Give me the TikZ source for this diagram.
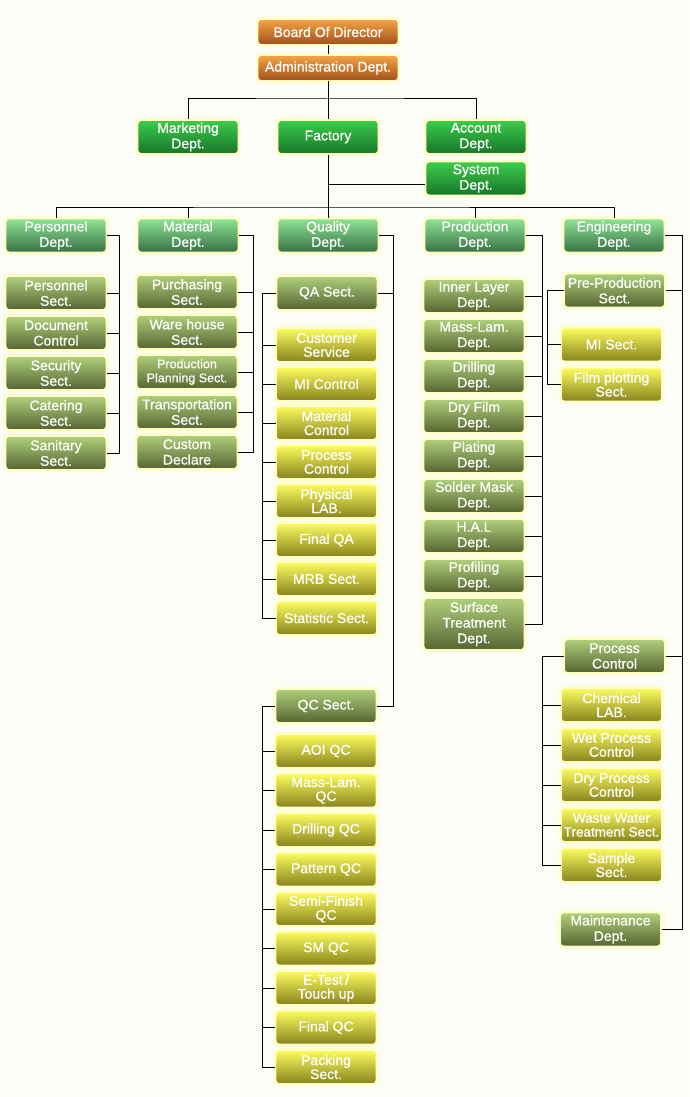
\documentclass[tikz,border=0pt]{standalone}
\usepackage{fontspec}
\setmainfont{Liberation Sans}
\newfontfamily\chartfont{Liberation Sans}[FakeBold=0.6]
\usetikzlibrary{positioning,calc}
\definecolor{glow}{RGB}{255,255,200}
\definecolor{paper}{RGB}{253,253,247}
\definecolor{orgtop}{RGB}{246,166,72}
\definecolor{orgbot}{RGB}{160,78,24}
\definecolor{grntop}{RGB}{60,206,76}
\definecolor{grnbot}{RGB}{24,116,40}
\definecolor{mnttop}{RGB}{144,230,150}
\definecolor{mntbot}{RGB}{54,110,68}
\definecolor{olvtop}{RGB}{176,210,124}
\definecolor{olvbot}{RGB}{84,98,48}
\definecolor{yeltop}{RGB}{255,255,96}
\definecolor{yelbot}{RGB}{132,128,26}
\tikzstyle{box}  =[rounded corners=4pt, draw=glow, line width=2.8pt,
                   outer sep=0pt, inner sep=1pt, minimum width=102pt,
                   minimum height=35pt, align=center, text=white,
                   font=\chartfont\fontsize{14}{15.5}\selectfont]
\tikzstyle{chief}=[box, top color=orgtop, bottom color=orgbot,
                   minimum width=142pt, minimum height=27pt]
\tikzstyle{unit} =[box, top color=grntop, bottom color=grnbot]
\tikzstyle{dept} =[box, top color=mnttop, bottom color=mntbot]
\tikzstyle{sect} =[box, top color=olvtop, bottom color=olvbot]
\tikzstyle{post} =[box, top color=yeltop, bottom color=yelbot,
                   font=\chartfont\fontsize{14}{14}\selectfont]
\tikzstyle{link} =[line width=1pt, black]
\begin{document}
\begin{tikzpicture}[x=1pt, y=-1pt, node distance=40pt, on grid]
    \fill[paper] (0,0) rectangle (689,1097);
    \useasboundingbox (0,0) rectangle (689,1097);
    % top of the chart
    \node[chief] (bod) at (328,32) {Board Of Director};
    \node[chief] (adm) at (328,68) {Administration Dept.};
    \node[unit] (mkt) at (188,137) {Marketing\\Dept.};
    \node[unit] (fac) at (328,137) {Factory};
    \node[unit] (acc) at (476,137) {Account\\Dept.};
    \node[unit] (sys) at (476,178.5) {System\\Dept.};
    \coordinate (bus1) at (328,99);
    \coordinate (bus2) at (328,207);
    \coordinate (tap) at (328,184);
    % departments
    \node[dept] (per) at (56,235.5) {Personnel\\Dept.};
    \node[dept] (mat) at (188,235.5) {Material\\Dept.};
    \node[dept] (qua) at (328,235.5) {Quality\\Dept.};
    \node[dept] (pro) at (475,235.5) {Production\\Dept.};
    \node[dept] (eng) at (614,235.5) {Engineering\\Dept.};
    % personnel
    \node[sect] (psn) at (56,293) {Personnel\\Sect.};
    \node[sect] (doc) [below=of psn] {Document\\Control};
    \node[sect] (scr) [below=of doc] {Security\\Sect.};
    \node[sect] (cat) [below=of scr] {Catering\\Sect.};
    \node[sect] (san) [below=of cat] {Sanitary\\Sect.};
    % material
    \node[sect] (pur) at (187,292) {Purchasing\\Sect.};
    \node[sect] (war) [below=of pur] {Ware house\\Sect.};
    \node[sect, font=\chartfont\fontsize{12.5}{14}\selectfont] (ppl)
        [below=of war] {Production\\Planning Sect.};
    \node[sect] (trn) [below=of ppl] {Transportation\\Sect.};
    \node[sect] (cdc) [below=of trn] {Custom\\Declare};
    % quality
    \node[sect] (qas) at (327,293) {QA Sect.};
    \node[post] (cus) at (326.5,345) {Customer\\Service};
    \node[post] (mic) [below=39pt of cus] {MI Control};
    \node[post] (mtc) [below=39pt of mic] {Material\\Control};
    \node[post] (prc) [below=39pt of mtc] {Process\\Control};
    \node[post] (phy) [below=39pt of prc] {Physical\\LAB.};
    \node[post] (fqa) [below=39pt of phy] {Final QA};
    \node[post] (mrb) [below=39pt of fqa] {MRB Sect.};
    \node[post] (sta) [below=39pt of mrb] {Statistic Sect.};
    \node[sect] (qcs) at (326,706) {QC Sect.};
    \node[post] (aoi) at (326,751) {AOI QC};
    \node[post] (mlq) [below=39.5pt of aoi] {Mass-Lam.\\QC};
    \node[post] (drq) [below=39.5pt of mlq] {Drilling QC};
    \node[post] (ptq) [below=39.5pt of drq] {Pattern QC};
    \node[post] (sfq) [below=39.5pt of ptq] {Semi-Finish\\QC};
    \node[post] (smq) [below=39.5pt of sfq] {SM QC};
    \node[post] (etq) [below=39.5pt of smq] {E-Test\,/\\Touch up};
    \node[post] (fqc) [below=39.5pt of etq] {Final QC};
    \node[post] (pac) [below=39.5pt of fqc] {Packing\\Sect.};
    % production
    \node[sect] (inl) at (474,296) {Inner Layer\\Dept.};
    \node[sect] (mlm) [below=of inl] {Mass-Lam.\\Dept.};
    \node[sect] (dri) [below=of mlm] {Drilling\\Dept.};
    \node[sect] (dfm) [below=of dri] {Dry Film\\Dept.};
    \node[sect] (pla) [below=of dfm] {Plating\\Dept.};
    \node[sect] (sol) [below=of pla] {Solder Mask\\Dept.};
    \node[sect] (hal) [below=of sol] {H.A.L\\Dept.};
    \node[sect] (prf) [below=of hal] {Profiling\\Dept.};
    \node[sect, minimum height=53pt] (sur) [below=48pt of prf]
        {Surface\\Treatment\\Dept.};
    % engineering
    \node[sect] (pre) at (614.5,290.5) {Pre-Production\\Sect.};
    \node[post] (mis) at (611.5,344.5) {MI Sect.};
    \node[post] (flm) [below=of mis] {Film plotting\\Sect.};
    \node[sect] (pcs) at (614.5,656) {Process\\Control};
    \node[post] (chm) at (611.5,705) {Chemical\\LAB.};
    \node[post] (wet) [below=of chm] {Wet Process\\Control};
    \node[post] (dpc) [below=of wet] {Dry Process\\Control};
    \node[post, font=\chartfont\fontsize{13.5}{14}\selectfont] (wst)
        [below=of dpc] {Waste Water\\Treatment Sect.};
    \node[post] (smp) [below=of wst] {Sample\\Sect.};
    \node[sect] (mnt) at (610.5,929.5) {Maintenance\\Dept.};
    % spines
    \coordinate (sp1) at (119,0);
    \coordinate (sp2) at (253,0);
    \coordinate (sp3) at (393,0);
    \coordinate (sp4) at (262,0);
    \coordinate (sp5) at (542,0);
    \coordinate (sp6) at (682,0);
    \coordinate (sp7) at (547,0);
    \coordinate (sp8) at (542,0);
    % connectors
    \draw[link] (bod) -- (adm);
    \draw[link] (adm) -- (fac);
    \draw[link] (mkt.north) |- (bus1) -| (acc.north);
    \draw[link] (fac) -- (qua);
    \draw[link] (tap) -- (tap -| sys.west);
    \draw[link] (per.north) |- (bus2) -| (eng.north);
    \draw[link] (mat.north) -- (mat.north |- bus2);
    \draw[link] (pro.north) -- (pro.north |- bus2);
    \draw[link] (per.east) -| (sp1 |- san.east) -- (san.east);
    \draw[link] (psn.east) -- (psn.east -| sp1);
    \draw[link] (doc.east) -- (doc.east -| sp1);
    \draw[link] (scr.east) -- (scr.east -| sp1);
    \draw[link] (cat.east) -- (cat.east -| sp1);
    \draw[link] (mat.east) -| (sp2 |- cdc.east) -- (cdc.east);
    \draw[link] (pur.east) -- (pur.east -| sp2);
    \draw[link] (war.east) -- (war.east -| sp2);
    \draw[link] (ppl.east) -- (ppl.east -| sp2);
    \draw[link] (trn.east) -- (trn.east -| sp2);
    \draw[link] (qua.east) -| (sp3 |- qcs.east) -- (qcs.east);
    \draw[link] (qas.east) -- (qas.east -| sp3);
    \draw[link] (qas.west) -| (sp4 |- sta.west) -- (sta.west);
    \draw[link] (cus.west) -- (cus.west -| sp4);
    \draw[link] (mic.west) -- (mic.west -| sp4);
    \draw[link] (mtc.west) -- (mtc.west -| sp4);
    \draw[link] (prc.west) -- (prc.west -| sp4);
    \draw[link] (phy.west) -- (phy.west -| sp4);
    \draw[link] (fqa.west) -- (fqa.west -| sp4);
    \draw[link] (mrb.west) -- (mrb.west -| sp4);
    \draw[link] (qcs.west) -| (sp4 |- pac.west) -- (pac.west);
    \draw[link] (aoi.west) -- (aoi.west -| sp4);
    \draw[link] (mlq.west) -- (mlq.west -| sp4);
    \draw[link] (drq.west) -- (drq.west -| sp4);
    \draw[link] (ptq.west) -- (ptq.west -| sp4);
    \draw[link] (sfq.west) -- (sfq.west -| sp4);
    \draw[link] (smq.west) -- (smq.west -| sp4);
    \draw[link] (etq.west) -- (etq.west -| sp4);
    \draw[link] (fqc.west) -- (fqc.west -| sp4);
    \draw[link] (pro.east) -| (sp5 |- sur.east) -- (sur.east);
    \draw[link] (inl.east) -- (inl.east -| sp5);
    \draw[link] (mlm.east) -- (mlm.east -| sp5);
    \draw[link] (dri.east) -- (dri.east -| sp5);
    \draw[link] (dfm.east) -- (dfm.east -| sp5);
    \draw[link] (pla.east) -- (pla.east -| sp5);
    \draw[link] (sol.east) -- (sol.east -| sp5);
    \draw[link] (hal.east) -- (hal.east -| sp5);
    \draw[link] (prf.east) -- (prf.east -| sp5);
    \draw[link] (eng.east) -| (sp6 |- mnt.east) -- (mnt.east);
    \draw[link] (pre.east) -- (pre.east -| sp6);
    \draw[link] (pcs.east) -- (pcs.east -| sp6);
    \draw[link] (pre.west) -| (sp7 |- flm.west) -- (flm.west);
    \draw[link] (mis.west) -- (mis.west -| sp7);
    \draw[link] (pcs.west) -| (sp8 |- smp.west) -- (smp.west);
    \draw[link] (chm.west) -- (chm.west -| sp8);
    \draw[link] (wet.west) -- (wet.west -| sp8);
    \draw[link] (dpc.west) -- (dpc.west -| sp8);
    \draw[link] (wst.west) -- (wst.west -| sp8);
\end{tikzpicture}
\end{document}
